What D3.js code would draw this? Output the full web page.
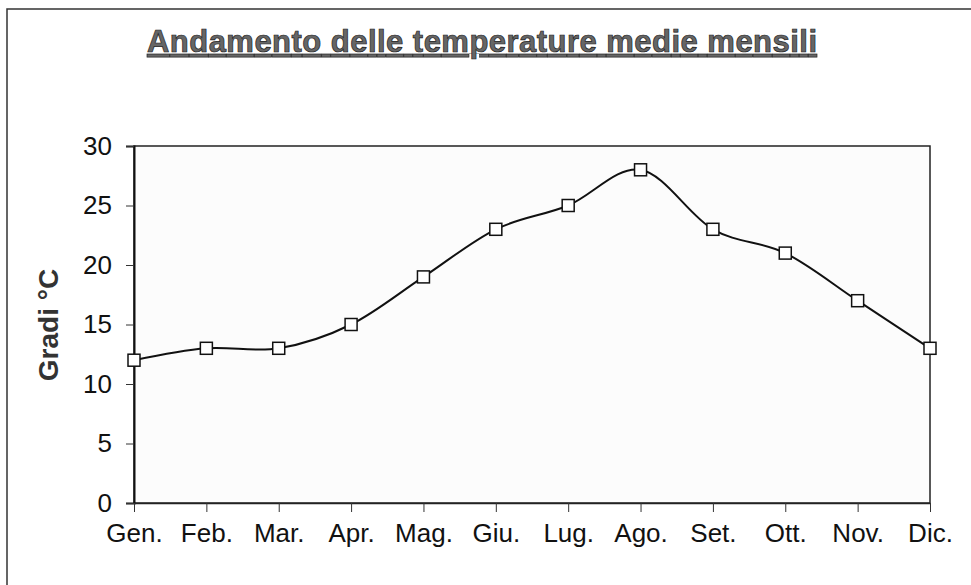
<!DOCTYPE html>
<html><head><meta charset="utf-8">
<script src="https://cdn.jsdelivr.net/npm/d3@7/dist/d3.min.js"></script>
<style>body{margin:0;background:#fff}svg{display:block}</style>
</head><body>
<svg id="c" width="971" height="585"></svg>
<script>
const months = ["Gen.","Feb.","Mar.","Apr.","Mag.","Giu.","Lug.","Ago.","Set.","Ott.","Nov.","Dic."];
const temps = [12,13,13,15,19,23,25,28,23,21,17,13];
const yTicks = [0,5,10,15,20,25,30];
const title = "Andamento delle temperature medie mensili";
const yTitle = "Gradi °C";

const svg = d3.select("#c");
const W = 971, H = 585;
const m = {left:134, right:930, top:146, bottom:503};
const font = "Arial, 'Liberation Sans', sans-serif";

// outer frame
svg.append("path").attr("d", `M7,${H} L7,9 L${W},9`).attr("fill","none").attr("stroke","#333").attr("stroke-width",1.5);

const x = d3.scalePoint().domain(months).range([m.left, m.right]);
const y = d3.scaleLinear().domain([0,30]).range([m.bottom, m.top]);

// plot frame
svg.append("rect").attr("x",m.left).attr("y",m.top).attr("width",m.right-m.left).attr("height",m.bottom-m.top)
  .attr("fill","#fcfcfc").attr("stroke","#222").attr("stroke-width",1.5);

// y axis
const ya = svg.append("g").attr("transform",`translate(${m.left},0)`)
  .call(d3.axisLeft(y).tickValues(yTicks).tickSize(8).tickPadding(14));
ya.select(".domain").attr("stroke","#111").attr("stroke-width",2);
ya.selectAll(".tick line").attr("stroke","#333");
ya.selectAll("text").attr("font-family",font).attr("font-size",26).attr("fill","#111");

// x axis
const xa = svg.append("g").attr("transform",`translate(0,${m.bottom})`)
  .call(d3.axisBottom(x).tickSize(9).tickPadding(12).tickSizeOuter(0));
xa.select(".domain").attr("stroke","#222").attr("stroke-width",1.5);
xa.selectAll(".tick line").attr("stroke","#333");
xa.selectAll("text").attr("font-family",font).attr("font-size",26).attr("fill","#111");

// line
const line = d3.line().x((d,i)=>x(months[i])).y(d=>y(d)).curve(d3.curveCardinal.tension(0));
svg.append("path").datum(temps).attr("d",line).attr("fill","none").attr("stroke","#111").attr("stroke-width",2);

// markers
svg.selectAll("rect.mk").data(temps).enter().append("rect").attr("class","mk")
  .attr("x",(d,i)=>x(months[i])-6).attr("y",d=>y(d)-6).attr("width",12).attr("height",12)
  .attr("fill","#fff").attr("stroke","#111").attr("stroke-width",1.5);

// title
svg.append("text").attr("x",482).attr("y",52).attr("text-anchor","middle")
  .attr("font-family",font).attr("font-size",31).attr("font-weight","bold").attr("fill","#666")
  .attr("stroke","#222").attr("stroke-width",0.7)
  .attr("textLength",670).attr("lengthAdjust","spacing")
  .attr("text-decoration","underline").text(title);

// y title
svg.append("text").attr("transform",`translate(58,325) rotate(-90)`).attr("text-anchor","middle")
  .attr("font-family",font).attr("font-size",28).attr("font-weight","bold").attr("fill","#333")
  .text(yTitle);
</script>
</body></html>
